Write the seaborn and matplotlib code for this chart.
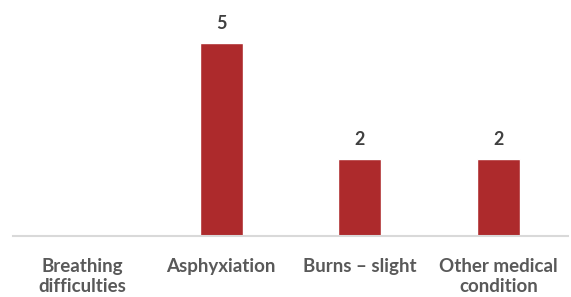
import matplotlib
matplotlib.use("Agg")
import matplotlib.pyplot as plt
import seaborn as sns
import pandas as pd

# data
categories = ["Breathing\ndifficulties", "Asphyxiation", "Burns \u2013 slight", "Other medical\ncondition"]
counts = [0, 5, 2, 2]

df = pd.DataFrame({"category": categories, "count": counts})

sns.set_style("white")
plt.rcParams["font.family"] = ["Lato", "DejaVu Sans"]

fig = plt.figure(figsize=(5.71, 2.97), dpi=100)
ax = fig.add_axes([13 / 571, 61 / 297, 555 / 571, 216 / 297])

sns.barplot(data=df, x="category", y="count", color="#AD2A2C", width=0.31,
            saturation=1, ax=ax)

# value labels (skip the empty category)
for i, v in enumerate(counts):
    if v > 0:
        ax.text(i, v + 0.28, str(v), ha="center", va="bottom", fontsize=13,
                fontweight="bold", color="#404040")

ax.set_ylim(0, 5.6)
ax.set_xlim(-0.5, 3.5)
ax.set_xlabel("")
ax.set_ylabel("")
ax.set_yticks([])
ax.tick_params(axis="x", length=0, pad=16)
for lbl in ax.get_xticklabels():
    lbl.set_fontweight("bold")
    lbl.set_fontsize(13.5)
    lbl.set_color("#595959")
    lbl.set_linespacing(1.2)

sns.despine(ax=ax, left=True, top=True, right=True)
ax.spines["bottom"].set_color("#D9D9D9")
ax.spines["bottom"].set_linewidth(1.5)

fig.savefig("out.png", dpi=100)
